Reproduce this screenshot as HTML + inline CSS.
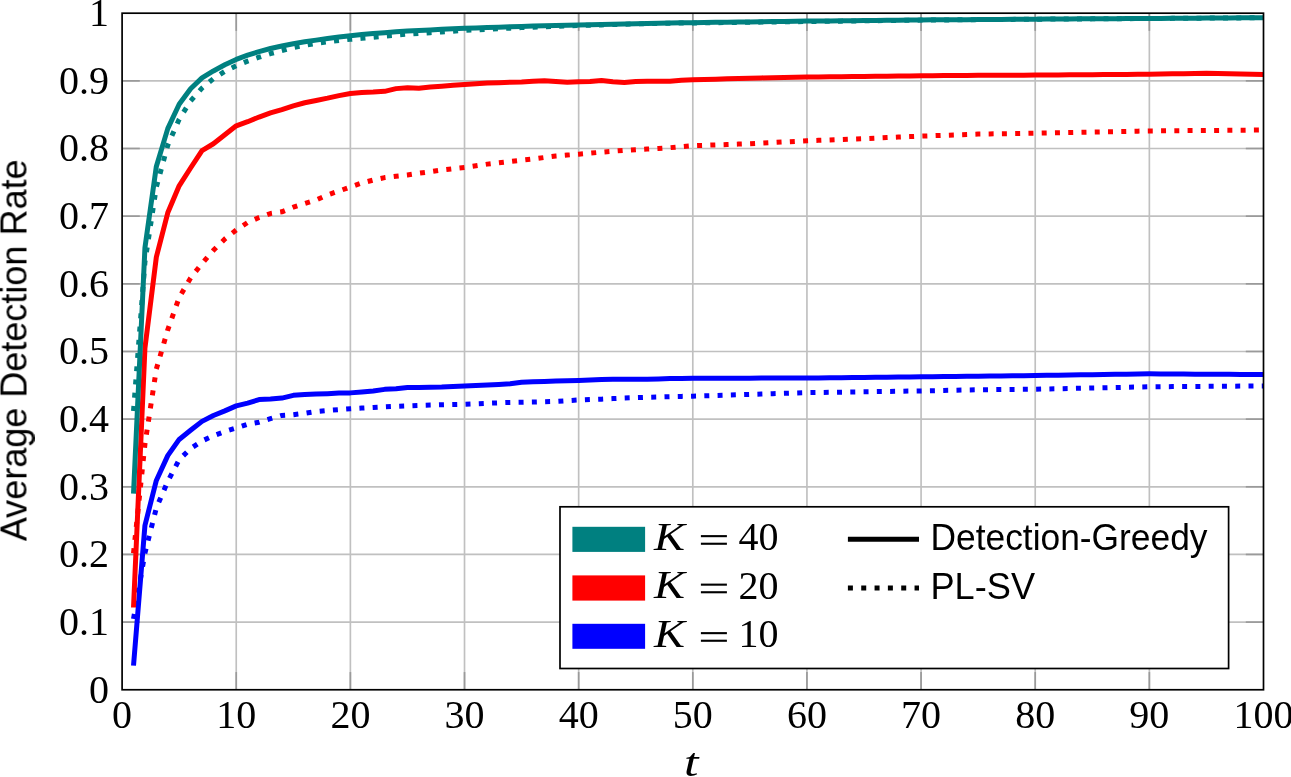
<!DOCTYPE html>
<html><head><meta charset="utf-8">
<style>
html,body{margin:0;padding:0;background:#fff;}
body{width:1291px;height:777px;overflow:hidden;}
svg{display:block;}
text{will-change:transform;}
.serif{font-family:"Liberation Serif",serif;}
.sans{font-family:"Liberation Sans",sans-serif;}
</style></head><body>
<svg width="1291" height="777" viewBox="0 0 1291 777">
<rect x="0" y="0" width="1291" height="777" fill="#fff"/>
<g stroke="#c0c0c0" stroke-width="1.67" fill="none">
<line x1="236.24" y1="13.19" x2="236.24" y2="689.76"/>
<line x1="122.10" y1="622.10" x2="1263.50" y2="622.10"/>
<line x1="350.38" y1="13.19" x2="350.38" y2="689.76"/>
<line x1="122.10" y1="554.45" x2="1263.50" y2="554.45"/>
<line x1="464.52" y1="13.19" x2="464.52" y2="689.76"/>
<line x1="122.10" y1="486.79" x2="1263.50" y2="486.79"/>
<line x1="578.66" y1="13.19" x2="578.66" y2="689.76"/>
<line x1="122.10" y1="419.13" x2="1263.50" y2="419.13"/>
<line x1="692.80" y1="13.19" x2="692.80" y2="689.76"/>
<line x1="122.10" y1="351.47" x2="1263.50" y2="351.47"/>
<line x1="806.94" y1="13.19" x2="806.94" y2="689.76"/>
<line x1="122.10" y1="283.82" x2="1263.50" y2="283.82"/>
<line x1="921.08" y1="13.19" x2="921.08" y2="689.76"/>
<line x1="122.10" y1="216.16" x2="1263.50" y2="216.16"/>
<line x1="1035.22" y1="13.19" x2="1035.22" y2="689.76"/>
<line x1="122.10" y1="148.50" x2="1263.50" y2="148.50"/>
<line x1="1149.36" y1="13.19" x2="1149.36" y2="689.76"/>
<line x1="122.10" y1="80.85" x2="1263.50" y2="80.85"/>
</g>
<g stroke="#9a9a9a" stroke-width="1.67" fill="none">
<line x1="236.24" y1="689.76" x2="236.24" y2="672.06"/>
<line x1="236.24" y1="13.19" x2="236.24" y2="30.89"/>
<line x1="122.10" y1="622.10" x2="139.80" y2="622.10"/>
<line x1="1263.50" y1="622.10" x2="1245.80" y2="622.10"/>
<line x1="350.38" y1="689.76" x2="350.38" y2="672.06"/>
<line x1="350.38" y1="13.19" x2="350.38" y2="30.89"/>
<line x1="122.10" y1="554.45" x2="139.80" y2="554.45"/>
<line x1="1263.50" y1="554.45" x2="1245.80" y2="554.45"/>
<line x1="464.52" y1="689.76" x2="464.52" y2="672.06"/>
<line x1="464.52" y1="13.19" x2="464.52" y2="30.89"/>
<line x1="122.10" y1="486.79" x2="139.80" y2="486.79"/>
<line x1="1263.50" y1="486.79" x2="1245.80" y2="486.79"/>
<line x1="578.66" y1="689.76" x2="578.66" y2="672.06"/>
<line x1="578.66" y1="13.19" x2="578.66" y2="30.89"/>
<line x1="122.10" y1="419.13" x2="139.80" y2="419.13"/>
<line x1="1263.50" y1="419.13" x2="1245.80" y2="419.13"/>
<line x1="692.80" y1="689.76" x2="692.80" y2="672.06"/>
<line x1="692.80" y1="13.19" x2="692.80" y2="30.89"/>
<line x1="122.10" y1="351.47" x2="139.80" y2="351.47"/>
<line x1="1263.50" y1="351.47" x2="1245.80" y2="351.47"/>
<line x1="806.94" y1="689.76" x2="806.94" y2="672.06"/>
<line x1="806.94" y1="13.19" x2="806.94" y2="30.89"/>
<line x1="122.10" y1="283.82" x2="139.80" y2="283.82"/>
<line x1="1263.50" y1="283.82" x2="1245.80" y2="283.82"/>
<line x1="921.08" y1="689.76" x2="921.08" y2="672.06"/>
<line x1="921.08" y1="13.19" x2="921.08" y2="30.89"/>
<line x1="122.10" y1="216.16" x2="139.80" y2="216.16"/>
<line x1="1263.50" y1="216.16" x2="1245.80" y2="216.16"/>
<line x1="1035.22" y1="689.76" x2="1035.22" y2="672.06"/>
<line x1="1035.22" y1="13.19" x2="1035.22" y2="30.89"/>
<line x1="122.10" y1="148.50" x2="139.80" y2="148.50"/>
<line x1="1263.50" y1="148.50" x2="1245.80" y2="148.50"/>
<line x1="1149.36" y1="689.76" x2="1149.36" y2="672.06"/>
<line x1="1149.36" y1="13.19" x2="1149.36" y2="30.89"/>
<line x1="122.10" y1="80.85" x2="139.80" y2="80.85"/>
<line x1="1263.50" y1="80.85" x2="1245.80" y2="80.85"/>
</g>
<g fill="none" stroke-width="5.0" stroke-linejoin="round" stroke-linecap="butt">
<polyline stroke="#0000ff" stroke-dasharray="5 8.33" pathLength="1268.08" points="133.51,618.92 144.93,553.03 156.34,507.97 167.76,481.38 179.17,459.73 190.58,448.50 202.00,440.99 213.41,435.78 224.83,431.51 236.24,428.00 247.65,424.27 259.07,422.18 270.48,418.73 281.90,415.41 293.31,414.73 304.72,413.31 316.14,411.49 327.55,410.47 338.97,409.59 350.38,408.71 361.79,408.07 373.21,407.43 384.62,406.85 396.04,406.28 407.45,405.84 418.86,405.40 430.28,405.06 441.69,404.72 453.11,404.48 464.52,404.25 475.93,403.77 487.35,403.30 498.76,402.86 510.18,402.42 521.59,402.22 533.00,402.01 544.42,401.68 555.83,401.34 567.25,400.66 578.66,399.99 590.07,399.58 601.49,399.17 612.90,398.60 624.32,398.02 635.73,397.65 647.14,397.28 658.56,396.97 669.97,396.67 681.39,396.40 692.80,396.13 704.21,395.78 715.63,395.44 727.04,395.09 738.46,394.75 749.87,394.40 761.28,394.06 772.70,393.71 784.11,393.37 795.53,393.02 806.94,392.68 818.35,392.50 829.77,392.33 841.18,392.15 852.60,391.97 864.01,391.80 875.42,391.62 886.84,391.45 898.25,391.27 909.67,391.09 921.08,390.92 932.49,390.69 943.91,390.46 955.32,390.23 966.74,390.00 978.15,389.77 989.56,389.66 1000.98,389.55 1012.39,389.44 1023.81,389.34 1035.22,389.23 1046.63,388.98 1058.05,388.74 1069.46,388.50 1080.88,388.25 1092.29,388.01 1103.70,387.77 1115.12,387.52 1126.53,387.28 1137.95,387.04 1149.36,386.79 1160.77,386.70 1172.19,386.62 1183.60,386.53 1195.02,386.44 1206.43,386.35 1217.84,386.26 1229.26,386.18 1240.67,386.09 1252.09,386.00 1263.50,385.91"/>
<polyline stroke="#0000ff" points="133.51,665.67 144.93,525.49 156.34,480.43 167.76,455.67 179.17,439.43 190.58,430.23 202.00,421.36 213.41,415.48 224.83,410.88 236.24,405.87 247.65,403.10 259.07,399.58 270.48,398.97 281.90,398.09 293.31,395.32 304.72,394.57 316.14,394.03 327.55,393.63 338.97,393.08 350.38,392.88 361.79,392.00 373.21,390.99 384.62,389.36 396.04,388.82 407.45,387.54 418.86,387.54 430.28,387.33 441.69,386.99 453.11,386.39 464.52,385.98 475.93,385.54 487.35,385.10 498.76,384.46 510.18,383.82 521.59,382.33 533.00,381.79 544.42,381.38 555.83,380.97 567.25,380.70 578.66,380.43 590.07,379.96 601.49,379.48 612.90,379.32 624.32,379.15 635.73,379.15 647.14,379.15 658.56,378.88 669.97,378.61 681.39,378.40 692.80,378.20 704.21,378.19 715.63,378.17 727.04,378.16 738.46,378.15 749.87,378.13 761.28,378.12 772.70,378.10 784.11,378.09 795.53,378.08 806.94,378.06 818.35,377.94 829.77,377.81 841.18,377.68 852.60,377.55 864.01,377.42 875.42,377.29 886.84,377.16 898.25,377.04 909.67,376.91 921.08,376.78 932.49,376.66 943.91,376.54 955.32,376.41 966.74,376.29 978.15,376.17 989.56,376.03 1000.98,375.90 1012.39,375.76 1023.81,375.63 1035.22,375.49 1046.63,375.32 1058.05,375.15 1069.46,374.99 1080.88,374.82 1092.29,374.65 1103.70,374.48 1115.12,374.31 1126.53,374.14 1137.95,373.97 1149.36,373.80 1160.77,373.88 1172.19,373.96 1183.60,374.05 1195.02,374.13 1206.43,374.21 1217.84,374.29 1229.26,374.37 1240.67,374.45 1252.09,374.53 1263.50,374.61"/>
<polyline stroke="#ff0000" stroke-dasharray="5 8.33" pathLength="1395.96" points="133.51,553.30 144.93,444.17 156.34,369.07 167.76,329.82 179.17,297.48 190.58,278.00 202.00,263.52 213.41,250.33 224.83,239.03 236.24,230.03 247.65,222.52 259.07,217.51 270.48,213.52 281.90,211.83 293.31,207.23 304.72,203.58 316.14,199.99 327.55,194.98 338.97,190.99 350.38,187.00 361.79,183.01 373.21,180.03 384.62,177.60 396.04,176.24 407.45,175.03 418.86,173.20 430.28,171.71 441.69,170.02 453.11,168.73 464.52,167.52 475.93,165.82 487.35,164.13 498.76,162.81 510.18,161.49 521.59,160.24 533.00,158.99 544.42,157.47 555.83,155.95 567.25,155.07 578.66,154.19 590.07,153.17 601.49,152.16 612.90,151.24 624.32,150.33 635.73,149.72 647.14,149.11 658.56,148.40 669.97,147.69 681.39,146.71 692.80,145.73 704.21,145.32 715.63,144.92 727.04,144.51 738.46,144.11 749.87,143.70 761.28,143.12 772.70,142.54 784.11,141.95 795.53,141.37 806.94,140.79 818.35,140.35 829.77,139.91 841.18,139.47 852.60,139.03 864.01,138.63 875.42,138.13 886.84,137.62 898.25,137.12 909.67,136.62 921.08,136.12 932.49,135.72 943.91,135.31 955.32,134.90 966.74,134.50 978.15,134.09 989.56,133.92 1000.98,133.74 1012.39,133.57 1023.81,133.39 1035.22,133.21 1046.63,132.98 1058.05,132.75 1069.46,132.52 1080.88,132.29 1092.29,132.06 1103.70,131.83 1115.12,131.60 1126.53,131.37 1137.95,131.14 1149.36,130.91 1160.77,130.83 1172.19,130.74 1183.60,130.65 1195.02,130.56 1206.43,130.47 1217.84,130.39 1229.26,130.30 1240.67,130.21 1252.09,130.12 1263.50,130.03"/>
<polyline stroke="#ff0000" points="133.51,607.49 144.93,348.09 156.34,257.09 167.76,212.78 179.17,185.78 190.58,167.99 202.00,150.53 213.41,143.77 224.83,134.77 236.24,125.84 247.65,121.71 259.07,117.04 270.48,112.92 281.90,109.60 293.31,105.88 304.72,102.77 316.14,100.47 327.55,98.17 338.97,95.60 350.38,93.43 361.79,92.42 373.21,92.08 384.62,91.33 396.04,88.63 407.45,87.82 418.86,88.29 430.28,87.07 441.69,86.19 453.11,85.31 464.52,84.50 475.93,83.79 487.35,83.08 498.76,82.64 510.18,82.20 521.59,82.00 533.00,81.32 544.42,80.71 555.83,81.52 567.25,82.13 578.66,81.79 590.07,81.52 601.49,80.51 612.90,81.79 624.32,82.61 635.73,81.52 647.14,81.32 658.56,81.32 669.97,81.19 681.39,80.31 692.80,79.83 704.21,79.53 715.63,79.22 727.04,78.86 738.46,78.50 749.87,78.14 761.28,77.91 772.70,77.68 784.11,77.45 795.53,77.22 806.94,76.99 818.35,76.90 829.77,76.80 841.18,76.71 852.60,76.61 864.01,76.52 875.42,76.37 886.84,76.22 898.25,76.07 909.67,75.92 921.08,75.77 932.49,75.69 943.91,75.61 955.32,75.53 966.74,75.45 978.15,75.37 989.56,75.31 1000.98,75.26 1012.39,75.20 1023.81,75.15 1035.22,75.10 1046.63,75.01 1058.05,74.92 1069.46,74.83 1080.88,74.74 1092.29,74.66 1103.70,74.57 1115.12,74.48 1126.53,74.39 1137.95,74.30 1149.36,74.22 1160.77,74.03 1172.19,73.84 1183.60,73.65 1195.02,73.46 1206.43,73.27 1217.84,73.50 1229.26,73.73 1240.67,73.96 1252.09,74.19 1263.50,74.42"/>
<polyline stroke="#008080" stroke-dasharray="5 8.33" pathLength="1413.61" points="133.51,411.01 144.93,262.17 156.34,187.07 167.76,145.32 179.17,119.21 190.58,101.01 202.00,88.09 213.41,78.68 224.83,71.38 236.24,65.83 247.65,61.09 259.07,57.23 270.48,53.58 281.90,50.60 293.31,47.63 304.72,45.39 316.14,43.43 327.55,41.74 338.97,40.46 350.38,39.31 361.79,38.28 373.21,37.25 384.62,36.22 396.04,35.19 407.45,34.16 418.86,33.42 430.28,32.68 441.69,31.93 453.11,31.19 464.52,30.44 475.93,29.87 487.35,29.31 498.76,28.74 510.18,28.17 521.59,27.60 533.00,27.18 544.42,26.76 555.83,26.34 567.25,25.92 578.66,25.50 590.07,25.19 601.49,24.88 612.90,24.58 624.32,24.27 635.73,23.96 647.14,23.65 658.56,23.34 669.97,23.20 681.39,23.07 692.80,22.93 704.21,22.80 715.63,22.66 727.04,22.53 738.46,22.39 749.87,22.26 761.28,22.12 772.70,21.99 784.11,21.85 795.53,21.71 806.94,21.58 818.35,21.43 829.77,21.28 841.18,21.13 852.60,20.98 864.01,20.84 875.42,20.69 886.84,20.54 898.25,20.39 909.67,20.24 921.08,20.09 932.49,20.00 943.91,19.92 955.32,19.83 966.74,19.74 978.15,19.65 989.56,19.56 1000.98,19.48 1012.39,19.39 1023.81,19.30 1035.22,19.21 1046.63,19.14 1058.05,19.08 1069.46,19.01 1080.88,18.94 1092.29,18.87 1103.70,18.81 1115.12,18.74 1126.53,18.67 1137.95,18.60 1149.36,18.53 1160.77,18.45 1172.19,18.37 1183.60,18.29 1195.02,18.21 1206.43,18.13 1217.84,18.05 1229.26,17.97 1240.67,17.89 1252.09,17.80 1263.50,17.72"/>
<polyline stroke="#008080" points="133.51,493.55 144.93,247.96 156.34,166.43 167.76,128.61 179.17,104.19 190.58,88.70 202.00,77.87 213.41,70.97 224.83,64.81 236.24,59.40 247.65,55.20 259.07,51.55 270.48,48.51 281.90,46.00 293.31,43.70 304.72,41.81 316.14,40.12 327.55,38.49 338.97,37.01 350.38,35.65 361.79,34.57 373.21,33.49 384.62,32.65 396.04,31.82 407.45,30.98 418.86,30.44 430.28,29.90 441.69,29.36 453.11,28.82 464.52,28.28 475.93,27.90 487.35,27.52 498.76,27.14 510.18,26.76 521.59,26.38 533.00,26.09 544.42,25.79 555.83,25.49 567.25,25.19 578.66,24.89 590.07,24.64 601.49,24.39 612.90,24.14 624.32,23.89 635.73,23.64 647.14,23.39 658.56,23.14 669.97,22.98 681.39,22.82 692.80,22.66 704.21,22.51 715.63,22.35 727.04,22.20 738.46,22.04 749.87,21.88 761.28,21.73 772.70,21.57 784.11,21.42 795.53,21.26 806.94,21.11 818.35,21.00 829.77,20.89 841.18,20.78 852.60,20.67 864.01,20.56 875.42,20.44 886.84,20.32 898.25,20.20 909.67,20.08 921.08,19.96 932.49,19.87 943.91,19.79 955.32,19.71 966.74,19.63 978.15,19.55 989.56,19.47 1000.98,19.39 1012.39,19.31 1023.81,19.23 1035.22,19.14 1046.63,19.08 1058.05,19.01 1069.46,18.94 1080.88,18.87 1092.29,18.81 1103.70,18.74 1115.12,18.67 1126.53,18.60 1137.95,18.53 1149.36,18.47 1160.77,18.39 1172.19,18.32 1183.60,18.24 1195.02,18.17 1206.43,18.10 1217.84,18.02 1229.26,17.95 1240.67,17.87 1252.09,17.80 1263.50,17.72"/>
</g>
<rect x="122.10" y="13.19" width="1141.40" height="676.57" fill="none" stroke="#000" stroke-width="1.7"/>
<!-- legend -->
<rect x="560" y="506.8" width="668.6" height="161.7" fill="#fff" stroke="#000" stroke-width="1.7"/>
<rect x="572.4" y="526.8" width="72.7" height="25.1" fill="#008080"/>
<rect x="572.4" y="575.4" width="72.7" height="25.2" fill="#ff0000"/>
<rect x="572.4" y="623.8" width="72.7" height="25.0" fill="#0000ff"/>
<g class="serif" font-size="40" fill="#000">
<text x="654.00" y="549.7" font-style="italic" textLength="31" lengthAdjust="spacingAndGlyphs">K</text>
<text x="654.00" y="598.2" font-style="italic" textLength="31" lengthAdjust="spacingAndGlyphs">K</text>
<text x="654.00" y="646.7" font-style="italic" textLength="31" lengthAdjust="spacingAndGlyphs">K</text>
</g>
<g class="serif" font-size="40" fill="#000" text-anchor="end">
<text x="778.50" y="550.0">40</text>
<text x="778.50" y="598.5">20</text>
<text x="778.50" y="647.0">10</text>
</g>
<g fill="#000">
<rect x="700.9" y="535.1" width="26" height="2.1"/><rect x="700.9" y="542.7" width="26" height="2.1"/>
<rect x="700.9" y="583.6" width="26" height="2.1"/><rect x="700.9" y="591.2" width="26" height="2.1"/>
<rect x="700.9" y="632.1" width="26" height="2.1"/><rect x="700.9" y="639.7" width="26" height="2.1"/>
</g>
<line x1="847.9" y1="539.2" x2="919" y2="539.2" stroke="#000" stroke-width="4.9"/>
<line x1="847.9" y1="588.05" x2="919" y2="588.05" stroke="#000" stroke-width="4.9" stroke-dasharray="5 8.33"/>
<g class="sans" font-size="37" fill="#000">
<text x="930.50" y="549.8" textLength="277.00" lengthAdjust="spacingAndGlyphs">Detection-Greedy</text>
<text x="930.50" y="598.5" textLength="104.50" lengthAdjust="spacingAndGlyphs">PL-SV</text>
</g>
<!-- tick labels -->
<g class="serif" font-size="40" fill="#000" text-anchor="end">
<text x="109.10" y="702.66">0</text>
<text x="109.10" y="635.00">0.1</text>
<text x="109.10" y="567.35">0.2</text>
<text x="109.10" y="499.69">0.3</text>
<text x="109.10" y="432.03">0.4</text>
<text x="109.10" y="364.37">0.5</text>
<text x="109.10" y="296.72">0.6</text>
<text x="109.10" y="229.06">0.7</text>
<text x="109.10" y="161.40">0.8</text>
<text x="109.10" y="93.75">0.9</text>
<text x="109.10" y="26.09">1</text>
</g>
<g class="serif" font-size="40" fill="#000" text-anchor="middle">
<text x="122.10" y="728.00">0</text>
<text x="236.24" y="728.00">10</text>
<text x="350.38" y="728.00">20</text>
<text x="464.52" y="728.00">30</text>
<text x="578.66" y="728.00">40</text>
<text x="692.80" y="728.00">50</text>
<text x="806.94" y="728.00">60</text>
<text x="921.08" y="728.00">70</text>
<text x="1035.22" y="728.00">80</text>
<text x="1149.36" y="728.00">90</text>
<text x="1263.50" y="728.00">100</text>
<text x="691.2" y="776" font-style="italic" textLength="14.5" lengthAdjust="spacingAndGlyphs">t</text>
</g>
<text class="sans" font-size="37" fill="#000" transform="translate(26.50,541.20) rotate(-90)" textLength="381.70" lengthAdjust="spacingAndGlyphs">Average Detection Rate</text>
</svg>
</body></html>
